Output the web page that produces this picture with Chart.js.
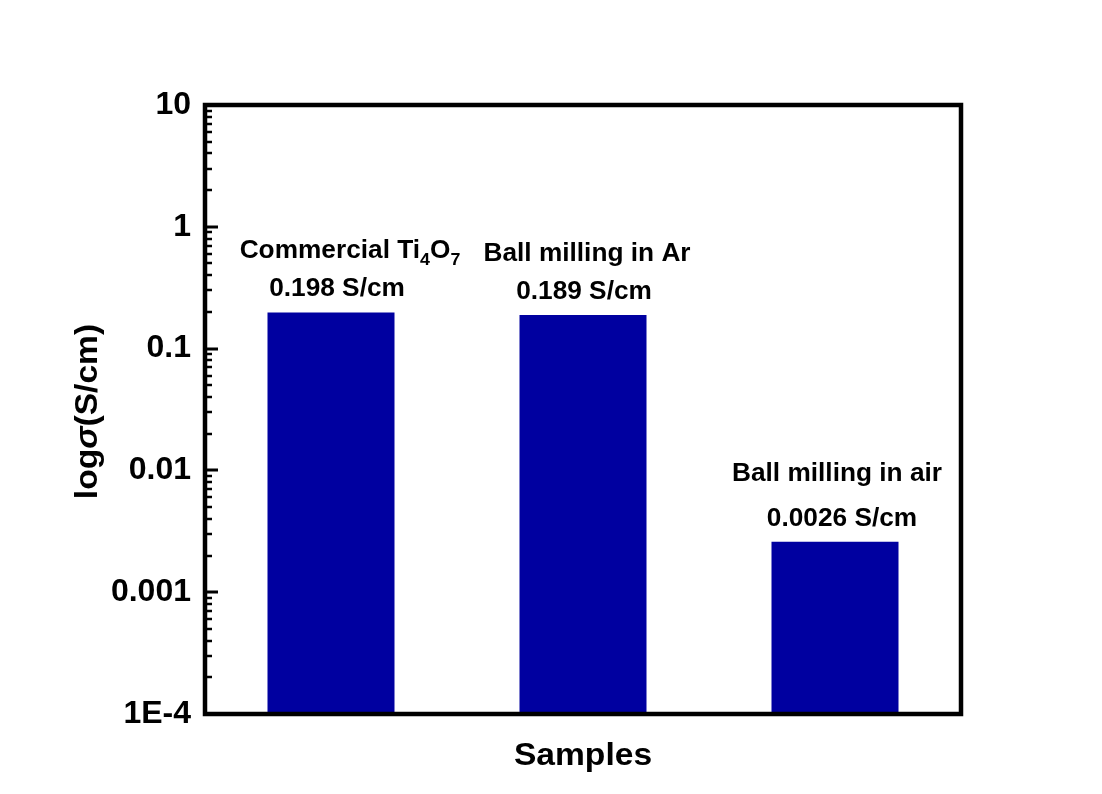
<!DOCTYPE html>
<html>
<head>
<meta charset="utf-8">
<script src="https://cdn.jsdelivr.net/npm/chart.js@4.4.1/dist/chart.umd.min.js"></script>
<style>
  html, body { margin: 0; padding: 0; background: #fff; }
  #wrap { width: 1102px; height: 794px; }
</style>
</head>
<body>
<div id="wrap"><canvas id="c" width="1102" height="794"></canvas></div>
<script>
// Samples and measured conductivity (S/cm)
const samples = ['Commercial Ti4O7', 'Ball milling in Ar', 'Ball milling in air'];
// sample names as text runs, subscripts flagged
const sampleNameRuns = [
  [{ t: 'Commercial Ti' }, { t: '4', sub: true }, { t: 'O' }, { t: '7', sub: true }],
  [{ t: 'Ball milling in Ar' }],
  [{ t: 'Ball milling in air' }]
];
const conductivity = [0.198, 0.189, 0.0026];
const valueUnit = 'S/cm';

// log axis: decades and their labels
const yMin = 1e-4;
const yMax = 10;
const yDecadeExps = [-4, -3, -2, -1, 0, 1];
const yDecadeLabels = ['1E-4', '0.001', '0.01', '0.1', '1', '10'];

// annotation placement relative to each bar (px)
const nameShiftX = [19, 4, 2];
const valueShiftX = [6, 1, 7];
const nameGap = [38, 38, 45];
const valueGap = 25;

const FONT = '"Liberation Sans", Arial, Helvetica, sans-serif';
const TEXT_STRETCH = 1.05;

function isDecade(v) {
  const e = Math.log10(v);
  return Math.abs(e - Math.round(e)) < 1e-6;
}

function buildLogTicks() {
  const ticks = [];
  for (let e = yDecadeExps[0]; e < yDecadeExps[yDecadeExps.length - 1]; e++) {
    for (let m = 1; m <= 9; m++) {
      ticks.push({ value: Number((m * Math.pow(10, e)).toPrecision(3)) });
    }
  }
  ticks.push({ value: yMax });
  ticks.forEach(t => { t.major = isDecade(t.value); });
  return ticks;
}

// draw a sequence of text runs centred at (cx, cy); cy is the middle of the cap height
function drawRuns(ctx, runs, cx, cy, size) {
  const fontFor = r => {
    const s = r.sub ? Math.round(size * 0.68) : size;
    return (r.it ? 'italic ' : '') + 'bold ' + s + 'px ' + FONT;
  };
  let w = 0;
  runs.forEach(r => { ctx.font = fontFor(r); w += ctx.measureText(r.t).width; });
  ctx.save();
  ctx.translate(cx, cy);
  ctx.scale(TEXT_STRETCH, 1);
  ctx.textBaseline = 'alphabetic';
  ctx.textAlign = 'left';
  ctx.fillStyle = '#000';
  let x = -w / 2;
  const base = size * 0.36;
  runs.forEach(r => {
    ctx.font = fontFor(r);
    ctx.fillText(r.t, x, r.sub ? base + size * 0.28 : base);
    x += ctx.measureText(r.t).width;
  });
  ctx.restore();
}

const framePlugin = {
  id: 'frameAndLabels',
  afterDatasetsDraw(chart) {
    const { ctx, chartArea: a } = chart;
    const yScale = chart.scales.y;
    ctx.save();

    // closed frame round the plot
    ctx.strokeStyle = '#000';
    ctx.lineWidth = 4.5;
    ctx.lineJoin = 'miter';
    ctx.strokeRect(a.left, a.top, a.right - a.left, a.bottom - a.top);

    // inward ticks on the left axis
    yScale.ticks.forEach(t => {
      const py = Math.round(yScale.getPixelForValue(t.value));
      const major = isDecade(t.value);
      ctx.lineWidth = major ? 3 : 2.5;
      ctx.beginPath();
      ctx.moveTo(a.left, py);
      ctx.lineTo(a.left + (major ? 13 : 7), py);
      ctx.stroke();
    });

    // sample name and value above each bar
    const meta = chart.getDatasetMeta(0);
    meta.data.forEach((bar, i) => {
      const vy = bar.y - valueGap;
      drawRuns(ctx, [{ t: conductivity[i] + ' ' + valueUnit }], bar.x + valueShiftX[i], vy, 25);
      drawRuns(ctx, sampleNameRuns[i], bar.x + nameShiftX[i], vy - nameGap[i], 25);
    });

    // rotated y-axis title with italic sigma
    ctx.save();
    ctx.translate(85, (a.top + a.bottom) / 2 + 2);
    ctx.rotate(-Math.PI / 2);
    drawRuns(ctx, [{ t: 'log' }, { t: 'σ', it: true }, { t: '(S/cm)' }], 0, 0, 32);
    ctx.restore();

    // x-axis title
    drawRuns(ctx, [{ t: 'Samples' }], (a.left + a.right) / 2, 753, 32);

    ctx.restore();
  }
};

new Chart(document.getElementById('c'), {
  type: 'bar',
  data: {
    labels: samples,
    datasets: [{
      data: conductivity,
      backgroundColor: '#0000a0',
      borderWidth: 0,
      barPercentage: 0.504,
      categoryPercentage: 1
    }]
  },
  options: {
    responsive: false,
    animation: false,
    devicePixelRatio: 1,
    layout: { padding: { top: 105, right: 141, bottom: 0, left: 0 } },
    plugins: { legend: { display: false }, tooltip: { enabled: false } },
    scales: {
      x: {
        type: 'category',
        grid: { display: false, drawTicks: false },
        border: { display: false },
        ticks: { display: false },
        afterFit(s) { s.height = 80; }
      },
      y: {
        type: 'logarithmic',
        min: yMin,
        max: yMax,
        grid: { display: false, drawTicks: false },
        border: { display: false },
        afterBuildTicks(s) { s.ticks = buildLogTicks(); },
        ticks: {
          autoSkip: false,
          padding: 14,
          color: '#000',
          font: { family: FONT, size: 32, weight: 'bold' },
          callback(v) {
            if (!isDecade(v)) return '';
            const idx = yDecadeExps.indexOf(Math.round(Math.log10(v)));
            return idx >= 0 ? yDecadeLabels[idx] : '';
          }
        },
        afterFit(s) { s.width = 205; }
      }
    }
  },
  plugins: [framePlugin]
});
</script>
</body>
</html>
